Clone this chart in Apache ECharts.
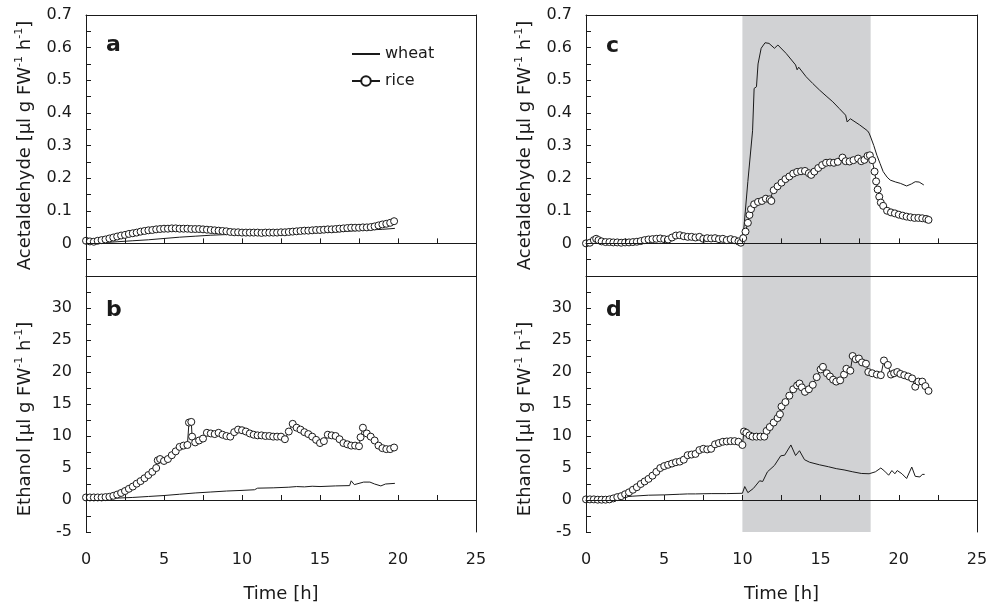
<!DOCTYPE html>
<html>
<head>
<meta charset="utf-8">
<script src="https://cdn.jsdelivr.net/npm/echarts@6/dist/echarts.min.js"></script>
<style>
html,body{margin:0;padding:0;background:#fff;}
#chart{width:998px;height:604px;}
</style>
</head>
<body>
<div id="chart"></div>
<script>
// ---------- data (time [h], value) ----------
const wheatA = [[0,0.0],[1,0.002],[2,0.005],[3,0.008],[4,0.011],[5,0.015],[6,0.019],[7,0.022],[8,0.025],[9,0.027],[10,0.029],[11,0.03],[12,0.031],[13,0.031],[14,0.032],[15,0.033],[16,0.035],[17,0.038],[18,0.041],[19,0.043],[19.8,0.046]];
const riceA = [[0,0.008],[0.25,0.006],[0.5,0.005],[0.75,0.008],[1,0.01],[1.25,0.012],[1.5,0.015],[1.75,0.018],[2,0.021],[2.25,0.024],[2.5,0.026],[2.75,0.029],[3,0.031],[3.25,0.033],[3.5,0.036],[3.75,0.038],[4,0.04],[4.25,0.041],[4.5,0.043],[4.75,0.044],[5,0.045],[5.25,0.045],[5.5,0.046],[5.75,0.046],[6,0.045],[6.25,0.045],[6.5,0.045],[6.75,0.044],[7,0.044],[7.25,0.044],[7.5,0.043],[7.75,0.042],[8,0.041],[8.25,0.04],[8.5,0.039],[8.75,0.038],[9,0.037],[9.25,0.035],[9.5,0.034],[9.75,0.034],[10,0.033],[10.25,0.033],[10.5,0.033],[10.75,0.033],[11,0.033],[11.25,0.032],[11.5,0.033],[11.75,0.033],[12,0.033],[12.25,0.033],[12.5,0.034],[12.75,0.034],[13,0.035],[13.25,0.036],[13.5,0.037],[13.75,0.038],[14,0.039],[14.25,0.039],[14.5,0.04],[14.75,0.041],[15,0.041],[15.25,0.042],[15.5,0.043],[15.75,0.043],[16,0.044],[16.25,0.045],[16.5,0.046],[16.75,0.047],[17,0.048],[17.25,0.048],[17.5,0.048],[17.75,0.049],[18,0.049],[18.25,0.05],[18.5,0.052],[18.75,0.055],[19,0.058],[19.25,0.06],[19.5,0.063],[19.75,0.068]];

const wheatB = [[0,0.25],[1,0.25],[2,0.3],[3,0.4],[4,0.55],[5,0.7],[6,0.9],[7,1.1],[8,1.25],[9,1.4],[10,1.5],[10.8,1.6],[10.9,1.9],[11,1.85],[12,1.9],[13,2.0],[13.5,2.1],[14,2.05],[14.5,2.15],[15,2.1],[16,2.2],[16.9,2.25],[17.0,3.0],[17.2,2.4],[17.5,2.6],[17.8,2.8],[18.2,2.8],[18.5,2.5],[18.9,2.2],[19.2,2.5],[19.8,2.6]];
const riceB = [[0,0.4],[0.25,0.4],[0.5,0.4],[0.75,0.4],[1,0.4],[1.25,0.45],[1.5,0.5],[1.75,0.65],[2,0.85],[2.25,1.1],[2.5,1.4],[2.75,1.75],[3,2.1],[3.25,2.55],[3.5,2.95],[3.75,3.4],[4,3.9],[4.25,4.4],[4.5,5.0],[4.6,6.2],[4.75,6.4],[5,6.1],[5.25,6.4],[5.5,7.0],[5.75,7.6],[6,8.3],[6.25,8.5],[6.5,8.6],[6.6,12.1],[6.75,12.2],[6.8,9.9],[7,9.0],[7.25,9.3],[7.5,9.6],[7.75,10.5],[8,10.4],[8.25,10.3],[8.5,10.5],[8.75,10.2],[9,10.0],[9.25,9.9],[9.5,10.6],[9.75,11.0],[10,10.9],[10.25,10.7],[10.5,10.4],[10.75,10.2],[11,10.1],[11.25,10.1],[11.5,10.0],[11.75,10.0],[12,9.9],[12.25,9.9],[12.5,9.9],[12.75,9.5],[13,10.7],[13.25,11.9],[13.5,11.3],[13.75,11.0],[14,10.6],[14.25,10.3],[14.5,9.9],[14.75,9.4],[15,8.9],[15.25,9.2],[15.5,10.2],[15.75,10.1],[16,10.0],[16.25,9.5],[16.5,8.9],[16.75,8.7],[17,8.5],[17.25,8.5],[17.5,8.4],[17.6,9.8],[17.75,11.3],[18,10.4],[18.25,9.9],[18.5,9.3],[18.75,8.5],[19,8.1],[19.25,7.95],[19.5,7.95],[19.75,8.2]];

const wheatC = [[0,0.0],[1,0.004],[2,0.003],[3,0.004],[4,0.01],[5,0.012],[6,0.02],[7,0.018],[8,0.014],[9,0.012],[9.9,0.005],[10.1,0.05],[10.35,0.19],[10.65,0.345],[10.75,0.475],[10.9,0.48],[11.0,0.55],[11.2,0.598],[11.45,0.615],[11.7,0.613],[12.05,0.598],[12.27,0.608],[12.8,0.582],[13.4,0.547],[13.5,0.532],[13.6,0.54],[14.07,0.511],[14.5,0.49],[14.93,0.47],[15.35,0.452],[15.78,0.434],[16.2,0.413],[16.6,0.393],[16.7,0.372],[16.9,0.382],[17.5,0.363],[18.0,0.345],[18.1,0.338],[18.2,0.326],[18.4,0.3],[18.6,0.27],[18.8,0.245],[19.0,0.22],[19.25,0.203],[19.45,0.194],[19.8,0.188],[20.1,0.184],[20.5,0.176],[20.8,0.182],[21.05,0.189],[21.3,0.188],[21.6,0.179]];
const riceC = [[0,0.0],[0.25,0.002],[0.5,0.01],[0.65,0.014],[0.8,0.01],[1,0.006],[1.25,0.004],[1.5,0.004],[1.75,0.003],[2,0.003],[2.25,0.002],[2.5,0.003],[2.75,0.003],[3,0.004],[3.25,0.005],[3.5,0.007],[3.75,0.01],[4,0.012],[4.25,0.013],[4.5,0.014],[4.75,0.015],[5,0.013],[5.25,0.012],[5.5,0.018],[5.75,0.024],[6,0.025],[6.25,0.022],[6.5,0.02],[6.75,0.02],[7,0.018],[7.25,0.02],[7.5,0.014],[7.75,0.016],[8,0.015],[8.25,0.016],[8.5,0.013],[8.75,0.014],[9,0.01],[9.25,0.013],[9.5,0.01],[9.75,0.006],[9.9,0.002],[10.05,0.016],[10.2,0.036],[10.35,0.063],[10.45,0.087],[10.55,0.105],[10.75,0.12],[11,0.127],[11.25,0.13],[11.5,0.137],[11.75,0.135],[11.85,0.13],[12,0.163],[12.25,0.175],[12.5,0.186],[12.75,0.197],[13,0.205],[13.25,0.214],[13.5,0.219],[13.75,0.221],[14,0.222],[14.25,0.215],[14.4,0.21],[14.6,0.22],[14.85,0.231],[15.1,0.24],[15.35,0.247],[15.6,0.248],[15.85,0.247],[16.1,0.25],[16.4,0.263],[16.6,0.252],[16.85,0.251],[17.1,0.255],[17.4,0.26],[17.6,0.252],[17.8,0.256],[18,0.268],[18.15,0.27],[18.3,0.255],[18.45,0.22],[18.55,0.19],[18.65,0.165],[18.75,0.143],[18.85,0.125],[19,0.115],[19.25,0.1],[19.5,0.095],[19.75,0.092],[20,0.088],[20.25,0.085],[20.5,0.082],[20.75,0.08],[21,0.078],[21.25,0.078],[21.5,0.077],[21.75,0.075],[21.9,0.072]];

const wheatD = [[0,0.1],[0.5,0.15],[1,0.2],[1.5,0.35],[2,0.45],[2.5,0.5],[3,0.6],[4,0.75],[5,0.8],[5.5,0.85],[6,0.9],[6.5,0.95],[7,0.95],[8,1.0],[9,1.0],[10,1.05],[10.15,2.1],[10.35,1.15],[10.7,1.8],[11.1,3.0],[11.3,2.9],[11.6,4.4],[12.05,5.4],[12.45,6.9],[12.7,7.0],[12.8,6.9],[13.1,8.6],[13.4,6.95],[13.65,7.7],[13.97,6.3],[14.3,5.9],[14.93,5.5],[15.5,5.2],[16,4.9],[16.5,4.7],[17.06,4.4],[17.6,4.15],[18.1,4.1],[18.5,4.4],[18.85,5.0],[19.1,4.5],[19.35,3.87],[19.56,4.6],[19.75,4.1],[19.9,4.6],[20.2,4.1],[20.5,3.36],[20.83,5.15],[21.05,3.7],[21.35,3.6],[21.5,4.0],[21.65,4.0]];
const riceD = [[0,0.1],[0.25,0.1],[0.5,0.1],[0.75,0.05],[1,0.05],[1.25,0.05],[1.5,0.1],[1.75,0.25],[2,0.45],[2.25,0.6],[2.5,0.9],[2.75,1.2],[3,1.6],[3.25,2.0],[3.5,2.5],[3.75,2.9],[4,3.3],[4.25,3.8],[4.5,4.4],[4.75,5.0],[5,5.3],[5.25,5.5],[5.5,5.7],[5.75,5.9],[6,6.0],[6.25,6.3],[6.5,7.0],[6.75,7.1],[7,7.2],[7.25,7.8],[7.5,8.0],[7.75,7.9],[8,8.0],[8.25,8.7],[8.5,8.9],[8.75,9.1],[9,9.15],[9.25,9.2],[9.5,9.2],[9.75,9.1],[10,8.6],[10.1,10.7],[10.25,10.5],[10.45,10.1],[10.65,9.9],[10.9,9.9],[11.15,9.9],[11.4,9.9],[11.55,10.8],[11.75,11.4],[12,12.1],[12.25,12.8],[12.4,13.4],[12.5,14.6],[12.75,15.3],[13,16.3],[13.25,17.3],[13.5,17.9],[13.65,18.2],[13.8,17.6],[14,16.9],[14.25,17.3],[14.5,18.0],[14.75,19.2],[15,20.4],[15.15,20.8],[15.4,19.8],[15.6,19.3],[15.8,18.8],[16,18.5],[16.25,18.7],[16.5,19.6],[16.65,20.5],[16.9,20.2],[17.05,22.5],[17.25,22.0],[17.45,22.1],[17.65,21.5],[17.9,21.3],[18.05,20.0],[18.3,19.8],[18.6,19.6],[18.85,19.5],[19.05,21.8],[19.3,21.1],[19.5,19.6],[19.7,19.8],[19.9,20.0],[20.1,19.7],[20.35,19.5],[20.6,19.3],[20.85,19.0],[21.05,17.7],[21.25,18.5],[21.5,18.5],[21.7,17.8],[21.9,17.05]];

const shadeRange = [10, 18.2];
const panelLetters = ['a', 'b', 'c', 'd'];
const seriesNames = ['wheat', 'rice'];
const xLabelStep = 5;

// ---------- chart ----------
const FONT = "'DejaVu Sans', 'Liberation Sans', Arial, sans-serif";
const INK = '#1a1a1a';
const grids = [
  {left: 86, top: 15, width: 390, height: 261},
  {left: 86, top: 276, width: 390, height: 260},
  {left: 586, top: 15, width: 391, height: 261},
  {left: 586, top: 276, width: 391, height: 260}
];
const isUpper = [true, false, true, false];

function acetFmt(v) {
  const r = Math.round(v * 10) / 10;
  if (Math.abs(v - r) > 1e-6 || r < -1e-9) return '';
  return String(r);
}
function ethFmt(v) {
  const r = Math.round(v);
  if (Math.abs(v - r) > 1e-6 || r % 5 !== 0 || r >= 35) return '';
  return String(r);
}
function xFmt(v) {
  const r = Math.round(v);
  if (Math.abs(v - r) > 1e-6 || r % xLabelStep !== 0) return '';
  return String(r);
}

const richName = {
  n: {fontFamily: FONT, fontSize: 18, color: INK, lineHeight: 22, verticalAlign: 'middle'},
  s: {fontFamily: FONT, fontSize: 11, color: INK, lineHeight: 10, verticalAlign: 'top'}
};
const acetName = '{n|Acetaldehyde [µl g FW}{s|-1}{n| h}{s|-1}{n|]}';
const ethName = '{n|Ethanol [µl g FW}{s|-1}{n| h}{s|-1}{n|]}';

const xAxes = [], yAxes = [];
grids.forEach((g, i) => {
  const up = isUpper[i];
  xAxes.push({
    type: 'value', gridIndex: i, min: 0, max: 25, interval: 2.5, z: 10,
    axisLine: {show: true, lineStyle: {color: INK, width: 1}},
    axisTick: {show: true, inside: true, length: 5, lineStyle: {color: INK}},
    axisLabel: {show: !up, formatter: xFmt, margin: 20, fontFamily: FONT, fontSize: 16, color: INK},
    splitLine: {show: false},
    name: up ? '' : 'Time [h]', nameLocation: 'middle', nameGap: 53,
    nameTextStyle: {fontFamily: FONT, fontSize: 18, color: INK}
  });
  yAxes.push({
    type: 'value', gridIndex: i, z: 10,
    min: up ? -0.1 : -5, max: up ? 0.7 : 35, interval: up ? 0.05 : 2.5,
    axisLine: {show: true, onZero: false, lineStyle: {color: INK, width: 1}},
    axisTick: {show: true, inside: true, length: 5, lineStyle: {color: INK}},
    axisLabel: {formatter: up ? acetFmt : ethFmt, margin: 14, padding: [4, 0, 0, 0],
      fontFamily: FONT, fontSize: 16, color: INK},
    splitLine: {show: false},
    name: up ? acetName : ethName, nameLocation: 'middle', nameGap: 50, nameRotate: 90,
    nameTextStyle: {rich: richName, padding: up ? [0, 0, 0, 0] : [0, 30, 0, 0]}
  });
});
// border axes (top and right)
grids.forEach((g, i) => {
  xAxes.push({type: 'value', gridIndex: i, position: 'top', min: 0, max: 25, z: 10,
    axisLine: {show: true, onZero: false, lineStyle: {color: INK, width: 1}},
    axisTick: {show: false}, axisLabel: {show: false}, splitLine: {show: false}});
  yAxes.push({type: 'value', gridIndex: i, position: 'right', min: 0, max: 1, z: 10,
    axisLine: {show: true, onZero: false, lineStyle: {color: INK, width: 1}},
    axisTick: {show: false}, axisLabel: {show: false}, splitLine: {show: false}});
});

const datasets = [[wheatA, riceA], [wheatB, riceB], [wheatC, riceC], [wheatD, riceD]];
const series = [];
datasets.forEach((pair, i) => {
  if (i >= 2) {
    series.push({
      type: 'line', name: 'shade', xAxisIndex: i, yAxisIndex: i, data: [], z: 1, silent: true,
      markArea: {silent: true, itemStyle: {color: '#d1d2d4'},
        data: [[{xAxis: shadeRange[0]}, {xAxis: shadeRange[1]}]]}
    });
  }
  series.push({
    type: 'line', name: seriesNames[0], xAxisIndex: i, yAxisIndex: i, data: pair[0],
    symbol: 'none', lineStyle: {color: INK, width: 1}, itemStyle: {color: INK}, z: 3
  });
  series.push({
    type: 'line', name: seriesNames[1], xAxisIndex: i, yAxisIndex: i, data: pair[1],
    symbol: 'circle', symbolSize: 7, showSymbol: true, showAllSymbol: true,
    lineStyle: {color: INK, width: 1},
    itemStyle: {color: '#ffffff', borderColor: INK, borderWidth: 1}, z: 4
  });
});

const letterPos = [[106, 56], [106, 321], [606, 57], [606, 321]];
const graphics = panelLetters.map((t, i) => ({
  type: 'text', x: letterPos[i][0], y: letterPos[i][1], z: 20,
  style: {text: t, fontFamily: FONT, fontSize: 22, fontWeight: 'bold', fill: INK,
    align: 'left', verticalAlign: 'bottom'}
}));

const chart = echarts.init(document.getElementById('chart'), null, {renderer: 'canvas'});
chart.setOption({
  animation: false,
  backgroundColor: '#ffffff',
  grid: grids,
  xAxis: xAxes,
  yAxis: yAxes,
  legend: {
    data: [
      {name: seriesNames[0], itemStyle: {color: 'rgba(0,0,0,0)', borderWidth: 0, borderColor: 'rgba(0,0,0,0)'}},
      {name: seriesNames[1]}
    ],
    orient: 'vertical', left: 346, top: 41,
    itemWidth: 28, itemHeight: 12, itemGap: 11,
    textStyle: {fontFamily: FONT, fontSize: 16, color: INK},
    selectedMode: false
  },
  graphic: graphics,
  series: series
});
</script>
</body>
</html>
